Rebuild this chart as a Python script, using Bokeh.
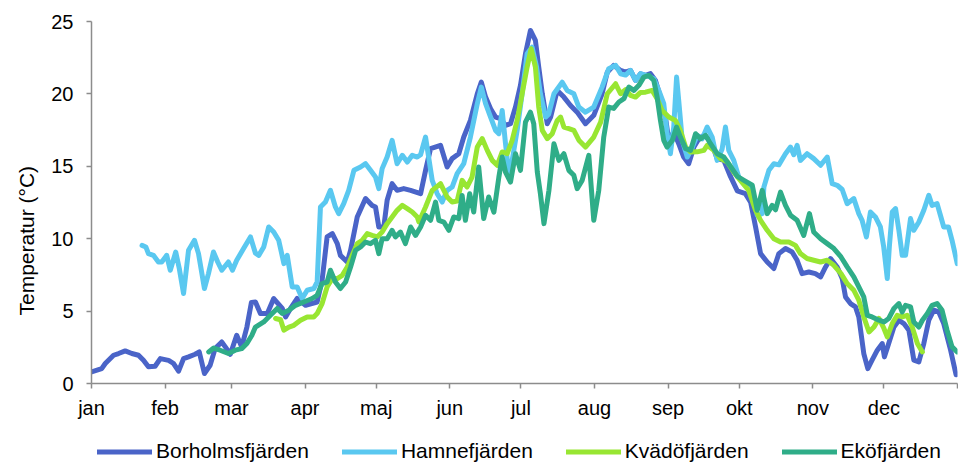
from bokeh.plotting import figure
from bokeh.layouts import column
from bokeh.models import Range1d, FixedTicker, Legend, LegendItem, Title
from bokeh.embed import file_html
from bokeh.resources import INLINE

# Month starts as day of year, with Swedish month labels
month_starts = [0, 31, 59, 90, 120, 151, 181, 212, 243, 273, 304, 334, 365]
month_labels = ["jan", "feb", "mar", "apr", "maj", "jun", "jul", "aug", "sep", "okt", "nov", "dec", ""]

# Water temperature (°C) per station: day of year and value
borholm_day = [0, 4.3, 5.8, 9.3, 11.4, 14.2, 17.0, 19.8, 21.9, 24.0, 26.8, 29.0, 32.5, 34.6, 36.7, 38.8,
               40.9, 43.7, 45.4, 47.6, 50.0, 52.1, 54.9, 56.4, 58.5, 61.2, 63.3, 65.5, 67.4, 69.1, 71.2,
               74.1, 76.8, 80.4, 81.8, 83.9, 86.7, 90.2, 95.1, 97.2, 99.3, 101.5, 103.6, 104.9, 107.8,
               109.2, 112.0, 115.5, 118.3, 119.7, 121.1, 123.2, 124.6, 126.7, 128.8, 131.6, 134.5,
               138.7, 140.8, 142.9, 147.1, 149.9, 152.0, 154.8, 156.9, 159.7, 162.6, 164.3, 166.1,
               168.2, 170.3, 172.4, 174.5, 176.6, 178.7, 180.8, 182.9, 185.0, 187.1, 188.5, 190.0,
               192.1, 193.5, 196.3, 199.1, 201.9, 204.7, 208.2, 211.7, 215.2, 217.4, 220.1, 223.0,
               225.1, 227.2, 229.3, 231.4, 233.5, 235.6, 237.7, 239.8, 241.9, 243.3, 245.4, 247.5,
               249.6, 251.7, 253.9, 256.0, 258.1, 260.9, 263.7, 266.5, 269.3, 272.2, 275.6, 277.8,
               279.9, 282.0, 284.8, 287.6, 289.7, 292.5, 295.3, 297.4, 299.5, 302.3, 305.1, 307.3,
               309.4, 311.5, 314.3, 316.4, 317.8, 319.9, 322.0, 323.4, 325.5, 327.2, 329.0, 331.2,
               333.3, 334.2, 336.0, 338.2, 340.3, 342.4, 344.5, 346.6, 348.7, 350.8, 352.9, 355.0,
               357.1, 359.2, 362.1, 364.4]
borholm_temp = [0.8, 1.03, 1.38, 1.95, 2.07, 2.25, 2.07, 1.95, 1.6, 1.15, 1.19, 1.72, 1.6, 1.38, 0.85, 1.72,
                1.84, 2.02, 2.18, 0.69, 1.26, 2.41, 2.87, 2.53, 2.02, 3.33, 2.53, 3.9, 5.6, 5.63, 4.83,
                4.83, 5.87, 5.18, 4.6, 5.18, 5.87, 5.4, 5.63, 7.13, 10.12, 10.35, 9.66, 8.85, 8.39,
                9.2, 11.5, 12.77, 12.3, 12.19, 10.81, 10.81, 12.65, 13.8, 13.34, 13.46, 13.34,
                13.11, 14.72, 16.22, 16.45, 14.95, 15.53, 15.87, 17.02, 18.17, 20.01, 20.81, 19.78,
                18.98, 18.4, 18.29, 17.83, 17.94, 19.09, 20.59, 22.77, 24.38, 23.69, 21.85, 20.01,
                17.94, 18.4, 20.24, 19.78, 19.2, 18.74, 17.94, 18.52, 20.01, 21.5, 21.97, 21.62,
                21.5, 21.62, 20.93, 21.39, 21.28, 21.4, 20.93, 19.78, 18.4, 16.79, 17.36, 16.56,
                15.64, 15.18, 16.33, 16.91, 17.14, 16.79, 15.53, 15.41, 14.3, 13.3, 13.11, 12.53,
                10.81, 8.97, 8.39, 7.94, 8.97, 9.32, 9.08, 8.51, 7.59, 7.7, 7.59, 7.36,
                8.05, 8.63, 8.05, 7.25, 5.98, 5.52, 5.29, 4.6, 2.07, 1.03, 1.61, 2.3,
                2.76, 1.84, 2.76, 3.9, 4.37, 4.14, 3.68, 1.61, 1.49, 2.76, 4.37, 5.06,
                4.94, 4.14, 2.3, 0.6]

hamne_day = [21.3, 22.9, 24.0, 26.1, 28.2, 29.6, 31.7, 33.2, 35.5, 37.0, 38.8, 40.9, 43.4, 45.1, 47.6,
             49.3, 51.4, 53.2, 54.9, 57.7, 59.4, 61.2, 64.1, 67.0, 69.1, 70.5, 72.6, 74.7, 76.8, 78.9,
             81.1, 82.5, 84.6, 86.7, 88.8, 90.9, 93.7, 95.1, 96.5, 98.6, 100.7, 102.8, 104.2, 106.3,
             108.4, 110.6, 113.4, 115.5, 117.6, 119.7, 121.1, 122.5, 124.6, 126.7, 128.8, 131.0,
             133.1, 135.2, 137.3, 138.7, 140.8, 143.6, 145.7, 147.8, 149.9, 152.0, 154.1, 156.9,
             159.7, 162.6, 164.3, 166.1, 168.2, 170.3, 171.7, 173.1, 174.5, 175.9, 177.3, 179.4,
             181.5, 183.6, 185.7, 187.6, 189.2, 191.4, 192.7, 194.9, 198.4, 200.5, 203.3, 205.4,
             208.2, 211.7, 215.2, 218.0, 220.9, 223.0, 225.1, 227.2, 229.3, 231.4, 233.5, 237.0,
             239.1, 241.2, 242.6, 244.0, 245.4, 246.6, 247.5, 249.0, 251.1, 253.2, 255.3, 257.4,
             259.5, 261.6, 263.7, 265.8, 267.2, 268.6, 270.7, 272.8, 275.6, 278.5, 280.6, 282.7,
             283.4, 285.5, 287.6, 289.7, 292.5, 294.6, 296.0, 297.4, 298.8, 301.6, 304.4, 307.3,
             310.1, 312.2, 314.3, 316.4, 318.5, 321.3, 323.4, 324.8, 326.6, 328.3, 330.4, 332.5,
             333.9, 335.4, 336.3, 337.5, 338.9, 340.3, 341.7, 343.1, 345.2, 346.6, 348.7, 350.8,
             352.9, 354.3, 356.4, 357.8, 359.2, 361.2, 362.7, 364.9]
hamne_temp = [9.54, 9.43, 8.97, 8.85, 8.39, 8.39, 8.85, 7.82, 9.08, 7.94, 6.21, 9.2, 9.89, 8.97, 6.56,
              7.59, 9.08, 8.39, 7.82, 8.39, 7.82, 8.51, 9.32, 10.12, 9.0, 8.85, 9.43, 10.81, 10.46, 9.89,
              8.28, 8.85, 6.67, 6.67, 5.87, 6.44, 6.56, 7.01, 12.19, 12.53, 13.34, 12.19, 11.73, 12.42,
              13.34, 14.72, 14.95, 15.18, 14.72, 14.26, 13.46, 14.84, 15.64, 16.79, 15.18, 15.76,
              15.29, 15.76, 15.64, 15.8, 17.02, 14.03, 13.11, 12.53, 13.34, 13.57, 14.49, 15.18,
              17.02, 19.32, 20.47, 19.32, 18.4, 17.48, 17.25, 18.86, 16.56, 14.49, 15.41, 17.48,
              20.01, 22.77, 23.23, 21.85, 20.01, 18.4, 18.6, 20.01, 20.81, 20.24, 20.01, 19.09,
              18.74, 19.09, 20.47, 21.74, 21.97, 21.39, 21.3, 21.62, 20.93, 21.4, 21.3, 21.05,
              20.24, 19.32, 17.25, 15.87, 17.71, 21.16, 19.55, 16.79, 15.64, 16.3, 17.14, 16.9,
              17.71, 17.02, 15.41, 16.2, 17.71, 16.1, 15.41, 14.26, 13.8, 13.34, 11.62, 11.73,
              13.57, 14.72, 15.18, 15.1, 15.87, 16.33, 15.8, 16.45, 15.41, 15.87, 15.53, 15.07,
              15.64, 13.8, 13.69, 13.4, 12.42, 12.77, 11.73, 11.27, 10.12, 11.84, 11.5, 10.81,
              9.43, 7.25, 9.5, 11.84, 12.08, 10.58, 8.85, 8.85, 11.39, 10.58, 11.15, 11.96,
              13.0, 12.3, 12.42, 11.62, 10.81, 10.81, 9.89, 8.28]

kvado_day = [77.6, 79.7, 81.1, 83.2, 85.3, 88.1, 90.9, 93.7, 95.1, 97.2, 99.3, 101.5, 103.6, 105.7,
             107.8, 109.9, 112.0, 114.1, 116.2, 118.3, 120.4, 122.5, 124.6, 126.7, 128.8, 131.0,
             133.1, 135.2, 137.3, 138.0, 140.8, 143.6, 147.1, 149.9, 152.0, 154.1, 156.2, 158.3,
             160.4, 162.6, 164.7, 166.8, 168.9, 171.0, 173.1, 175.2, 177.3, 179.4, 181.5, 183.6,
             185.3, 187.1, 188.5, 190.0, 192.1, 194.2, 196.3, 197.7, 199.1, 201.2, 203.3, 205.4,
             208.2, 211.7, 214.6, 217.4, 220.9, 223.0, 225.1, 227.2, 229.3, 231.4, 233.5, 236.3,
             238.4, 240.5, 243.3, 246.1, 248.2, 250.4, 252.5, 255.3, 258.1, 259.5, 262.3, 265.1,
             268.0, 270.7, 273.5, 277.0, 279.9, 282.0, 284.8, 287.6, 290.4, 293.9, 296.7, 298.8,
             301.6, 304.4, 307.3, 310.1, 312.9, 315.9, 318.5, 321.3, 323.4, 325.5, 327.7, 329.8,
             331.9, 334.0, 335.4, 337.5, 339.6, 341.7, 343.8, 345.9, 348.1, 350.2]
kvado_temp = [4.49, 4.4, 3.68, 3.9, 4.02, 4.37, 4.6, 4.6, 4.83, 5.52, 6.67, 7.25, 7.25, 7.47,
              8.05, 8.85, 9.66, 9.89, 10.35, 10.23, 10.12, 10.46, 11.04, 11.5, 11.96, 12.3,
              12.08, 11.84, 11.5, 11.15, 12.19, 13.34, 13.8, 12.88, 12.53, 12.6, 14.03, 13.57,
              14.26, 16.33, 16.91, 16.1, 15.41, 15.07, 15.99, 15.87, 16.79, 18.17, 20.01, 21.85,
              23.12, 21.85, 19.09, 17.48, 16.91, 17.25, 18.17, 18.4, 17.71, 17.6, 17.48, 16.8,
              16.33, 17.02, 18.05, 20.01, 20.7, 20.01, 20.3, 19.9, 19.78, 20.1, 20.12, 20.24,
              19.67, 18.86, 18.4, 18.17, 17.48, 16.33, 15.99, 16.0, 16.1, 16.45, 16.1, 15.53,
              15.29, 14.6, 14.03, 13.34, 11.96, 11.27, 10.58, 10.0, 9.77, 9.77, 9.54, 8.97,
              8.63, 8.51, 8.39, 8.51, 8.16, 7.59, 6.9, 6.44, 5.75, 4.6, 3.56, 3.9,
              4.49, 3.8, 3.22, 4.14, 4.71, 4.6, 4.71, 3.9, 2.76, 2.18]

eko_day = [49.4, 51.5, 54.2, 57.7, 60.6, 63.3, 65.5, 67.6, 69.1, 72.6, 75.4, 78.3, 80.4, 83.2, 86.0,
           89.5, 93.0, 95.1, 97.2, 99.3, 100.7, 102.8, 104.9, 107.1, 109.2, 111.3, 113.4, 115.5,
           117.6, 119.7, 121.1, 122.5, 124.6, 126.7, 128.1, 130.2, 132.3, 134.5, 136.6, 138.7,
           140.8, 142.9, 145.0, 146.4, 148.5, 150.6, 152.7, 154.8, 156.2, 157.6, 159.4, 161.1,
           163.2, 165.3, 167.4, 169.6, 171.7, 173.1, 174.5, 176.6, 178.7, 180.8, 182.9, 185.0,
           186.4, 187.9, 189.2, 190.7, 192.8, 194.9, 197.0, 199.1, 201.2, 203.3, 204.7, 206.8,
           209.6, 211.7, 213.8, 215.9, 218.0, 220.1, 222.3, 224.4, 226.5, 228.6, 230.7, 232.8,
           234.9, 237.0, 238.4, 239.8, 241.2, 242.6, 244.8, 246.6, 248.2, 250.4, 252.5, 254.6,
           256.7, 258.8, 260.9, 263.7, 266.5, 269.3, 272.2, 275.0, 278.5, 280.6, 282.7, 284.8,
           286.9, 288.3, 290.4, 292.5, 294.6, 297.4, 300.2, 302.6, 304.4, 307.3, 310.1, 312.9,
           315.9, 318.5, 321.3, 323.4, 325.5, 327.0, 329.0, 331.9, 334.0, 336.0, 338.2, 340.3,
           341.7, 343.1, 345.2, 346.6, 348.7, 350.2, 352.3, 354.3, 356.4, 358.5, 360.6, 362.7,
           364.9]
eko_temp = [2.18, 2.45, 2.3, 2.07, 2.3, 2.41, 2.76, 3.33, 3.9, 4.25, 4.71, 5.18, 4.83, 5.06, 5.4,
            5.63, 5.87, 6.09, 6.9, 7.01, 7.82, 7.01, 6.56, 7.01, 8.05, 9.2, 9.43, 9.77,
            9.66, 9.89, 8.97, 10.0, 10.0, 10.58, 10.12, 10.46, 9.66, 10.81, 10.23, 10.81,
            11.62, 11.27, 12.53, 11.27, 11.15, 10.58, 11.5, 11.39, 12.99, 11.27, 13.11, 11.84,
            14.95, 11.39, 12.88, 11.84, 14.26, 15.64, 14.6, 13.91, 15.87, 14.72, 18.05, 18.74,
            17.94, 14.6, 13.11, 11.04, 13.34, 16.56, 15.41, 15.87, 14.72, 14.38, 13.46, 14.03,
            15.76, 11.27, 13.34, 17.02, 19.09, 19.0, 19.44, 19.67, 20.47, 20.24, 20.59, 21.16,
            21.28, 20.93, 19.78, 18.17, 16.79, 16.33, 16.79, 17.71, 17.02, 16.22, 16.1, 17.25,
            16.9, 17.14, 16.56, 15.87, 15.64, 15.0, 14.3, 14.03, 13.69, 11.96, 13.34, 11.73,
            12.3, 12.0, 13.22, 12.3, 11.62, 11.27, 10.23, 11.73, 10.46, 10.0, 9.66, 9.32,
            8.74, 8.05, 7.36, 6.67, 5.98, 4.71, 4.6, 4.37, 4.25, 4.49, 5.18, 5.52,
            4.94, 5.4, 5.29, 4.25, 3.9, 4.37, 4.83, 5.4, 5.52, 5.06, 3.68, 2.53,
            2.18]

series = [
    ("Borholmsfjärden", borholm_day, borholm_temp, "#4a64c8"),
    ("Hamnefjärden", hamne_day, hamne_temp, "#5ac8f0"),
    ("Kvädöfjärden", kvado_day, kvado_temp, "#98e632"),
    ("Eköfjärden", eko_day, eko_temp, "#2fad88"),
]

FONT = "Liberation Sans"
AXIS_GREY = "#8c8c8c"
LINE_W = 5

# Main chart
p = figure(width=958, height=423, output_backend="svg", toolbar_location=None,
           x_range=Range1d(0, 365), y_range=Range1d(0, 25),
           min_border_left=91, min_border_right=1, min_border_top=21, min_border_bottom=40)

for name, days, temps, color in series:
    p.line(days, temps, line_color=color, line_width=LINE_W,
           line_join="round", line_cap="round")

p.xgrid.grid_line_color = None
p.ygrid.grid_line_color = None
p.outline_line_color = None
p.background_fill_color = "white"
p.border_fill_color = "white"

p.xaxis.ticker = FixedTicker(ticks=month_starts)
p.xaxis.major_label_overrides = {d: lab for d, lab in zip(month_starts, month_labels)}
p.yaxis.ticker = FixedTicker(ticks=[0, 5, 10, 15, 20, 25])

for ax in (p.xaxis[0], p.yaxis[0]):
    ax.axis_line_color = AXIS_GREY
    ax.axis_line_width = 1.5
    ax.major_tick_line_color = AXIS_GREY
    ax.major_tick_line_width = 1.5
    ax.major_tick_in = 0
    ax.major_tick_out = 5
    ax.minor_tick_line_color = None
    ax.major_label_text_font = FONT
    ax.major_label_text_font_size = "20px"
    ax.major_label_text_color = "#000000"

p.xaxis.major_label_standoff = 8
p.yaxis.major_label_standoff = 13

# y axis title, set a little below the middle of the plot height
ytitle = Title(text="Temperatur (°C)", align="left", offset=68, standoff=22,
               text_font=FONT, text_font_size="21px", text_font_style="normal",
               text_color="#000000")
p.add_layout(ytitle, "left")

# Legend strip under the chart (its frame lines up with the chart's frame)
leg = figure(width=958, height=40, output_backend="svg", toolbar_location=None,
             x_range=Range1d(0, 1), y_range=Range1d(0, 1),
             x_axis_type=None, y_axis_type=None,
             min_border_left=0, min_border_right=0, min_border_top=0, min_border_bottom=0)
leg.xgrid.grid_line_color = None
leg.ygrid.grid_line_color = None
leg.outline_line_color = None
leg.background_fill_color = "white"
leg.border_fill_color = "white"

nan = float("nan")
items = []
for name, days, temps, color in series:
    # one blank point, so the legend swatch has a line style to draw with
    swatch = leg.line([nan], [nan], line_color=color, line_width=LINE_W, line_cap="round")
    items.append(LegendItem(label=name, renderers=[swatch]))

legend = Legend(items=items, orientation="horizontal", location=(6, 0),
                label_text_font=FONT, label_text_font_size="21px", label_text_color="#000000",
                glyph_width=55, glyph_height=21, label_standoff=4, spacing=33,
                padding=0, margin=0, border_line_color=None, background_fill_alpha=0)
leg.add_layout(legend)

layout = column(p, leg, spacing=0)

open("out.html", "w").write(file_html(layout, INLINE))
